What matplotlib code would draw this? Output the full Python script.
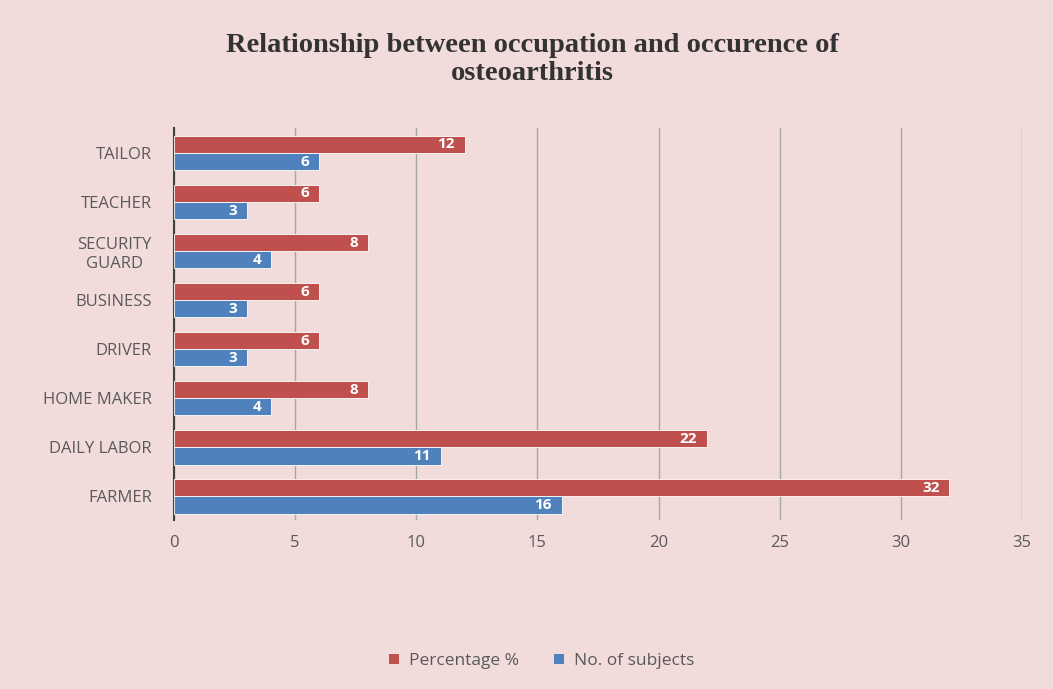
import matplotlib
matplotlib.use("Agg")
import matplotlib.pyplot as plt
import numpy as np
from matplotlib.patches import Patch

categories = ["FARMER", "DAILY LABOR", "HOME MAKER", "DRIVER", "BUSINESS",
              "SECURITY\nGUARD", "TEACHER", "TAILOR"]
percentage = [32, 22, 8, 6, 6, 8, 6, 12]
subjects = [16, 11, 4, 3, 3, 4, 3, 6]
xticks = [0, 5, 10, 15, 20, 25, 30, 35]

bg = "#F2DCDB"
red = "#C0504D"
blue = "#4F81BD"
txt = "#595959"

plt.rcParams['font.family'] = ['Open Sans', 'DejaVu Sans']

fig = plt.figure(figsize=(10.53, 6.89), dpi=100, facecolor=bg)
ax = fig.add_axes([174/1053, 1-520/689, (1022-174)/1053, (520-128)/689])
ax.set_facecolor(bg)

y = np.arange(len(categories))
h = 0.35
rb = ax.barh(y + h/2, percentage, height=h, color=red, edgecolor="white", linewidth=0.6, zorder=3)
bb = ax.barh(y - h/2, subjects, height=h, color=blue, edgecolor="white", linewidth=0.6, zorder=3)

for bars, vals in ((rb, percentage), (bb, subjects)):
    for b, v in zip(bars, vals):
        ax.text(b.get_width() - 0.4, b.get_y() + b.get_height()/2, str(v),
                ha="right", va="center", color="white", fontsize=11, fontweight="bold", zorder=4)

ax.set_xlim(0, 35)
ax.set_ylim(-0.48, 7.51)
ax.set_xticks(xticks)
ax.set_xticklabels([str(t) for t in xticks], color=txt, fontsize=12)
ax.set_yticks(y)
ax.set_yticklabels(categories, color=txt, fontsize=12)
for lab in ax.get_yticklabels():
    lab.set_multialignment("center")
ax.tick_params(axis="y", length=0, pad=16)
ax.tick_params(axis="x", length=0, pad=11)
ax.grid(axis="x", color="#A6A6A6", linewidth=1, zorder=0)
for s in ["top", "right", "bottom"]:
    ax.spines[s].set_visible(False)
ax.spines["left"].set_color("#404040")
ax.spines["left"].set_linewidth(1.5)

title_font = dict(ha="center", va="center", fontsize=20.5, fontweight="bold", color="#333333",
                  family=["Liberation Serif", "DejaVu Serif"])
fig.text(532/1053, 1-45/689, "Relationship between occupation and occurence of", **title_font)
fig.text(532/1053, 1-73/689, "osteoarthritis", **title_font)

handles = [Patch(facecolor=red, label="Percentage %"), Patch(facecolor=blue, label="No. of subjects")]
leg = fig.legend(handles=handles, loc="center", bbox_to_anchor=(542/1053, 1-661/689), ncol=2,
                 frameon=False, fontsize=12.5, handlelength=0.55, handleheight=0.55,
                 columnspacing=2.0, handletextpad=0.6)
for t in leg.get_texts():
    t.set_color(txt)

fig.savefig("out.png", dpi=100, facecolor=bg)
